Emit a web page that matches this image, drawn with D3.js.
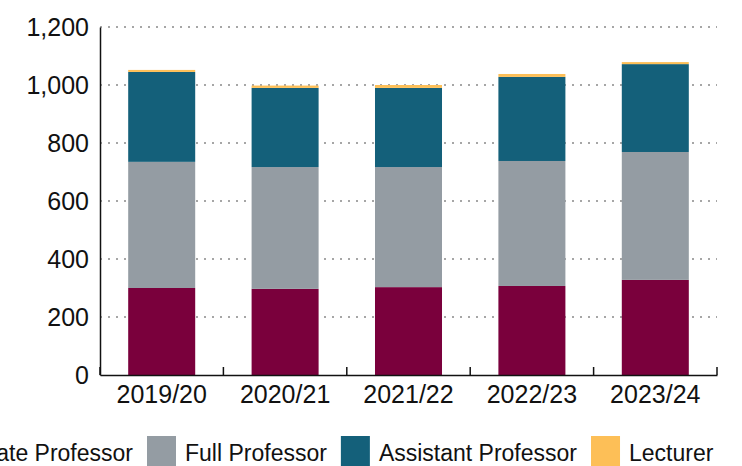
<!DOCTYPE html>
<html>
<head>
<meta charset="utf-8">
<script src="https://cdn.jsdelivr.net/npm/d3@7"></script>
<style>
  body { margin: 0; background: #fff; }
  svg text { font-family: "Liberation Sans", Arial, sans-serif; fill: #111; }
</style>
</head>
<body>
<svg id="chart" width="742" height="466"></svg>
<script>
// chart data
var years = ['2019/20', '2020/21', '2021/22', '2022/23', '2023/24'];
var ranks = ['Associate Professor', 'Full Professor', 'Assistant Professor', 'Lecturer'];
var associate = [300, 297, 303, 307, 328];
var full = [435, 420, 414, 431, 441];
var assistant = [310, 273, 273, 290, 303];
var lecturer = [7, 8, 10, 10, 7];
var yTicks = [0, 200, 400, 600, 800, 1000, 1200];
var colors = ['#7a003c', '#949ca3', '#14607a', '#fdbf57'];

var svg = d3.select('#chart');
var margin = {top: 27, left: 100, right: 25, bottom: 91};
var W = 742, H = 466;

var rows = years.map(function(y, i) {
  return {year: y, 'Associate Professor': associate[i], 'Full Professor': full[i],
          'Assistant Professor': assistant[i], 'Lecturer': lecturer[i]};
});
var stack = d3.stack().keys(ranks)(rows);

var x = d3.scaleBand().domain(years)
  .range([margin.left, W - margin.right])
  .paddingInner(0.457).paddingOuter(0.2285);
var y = d3.scaleLinear().domain([0, 1200]).range([H - margin.bottom, margin.top]);

// gridlines
svg.append('g').selectAll('line')
  .data(yTicks.filter(function(d) { return d > 0; }))
  .join('line')
  .attr('x1', margin.left).attr('x2', W - margin.right)
  .attr('y1', function(d) { return y(d); }).attr('y2', function(d) { return y(d); })
  .attr('stroke', '#a6a6a6').attr('stroke-width', 2)
  .attr('stroke-dasharray', '2,6');

// bars
svg.append('g').selectAll('g')
  .data(stack)
  .join('g')
  .attr('fill', function(d, i) { return colors[i]; })
  .selectAll('rect')
  .data(function(d) { return d; })
  .join('rect')
  .attr('x', function(d) { return x(d.data.year); })
  .attr('width', x.bandwidth())
  .attr('y', function(d) { return y(d[1]); })
  .attr('height', function(d) { return y(d[0]) - y(d[1]); });

// y axis
var yAxis = svg.append('g')
  .attr('transform', 'translate(' + margin.left + ',0)')
  .call(d3.axisLeft(y).tickValues(yTicks).tickSize(0).tickPadding(11).tickFormat(d3.format(',')));
yAxis.select('.domain').attr('stroke', '#111').attr('stroke-width', 1.5);
yAxis.selectAll('text').attr('font-size', 25);

// x axis with ticks at band boundaries
var xAxis = svg.append('g')
  .attr('transform', 'translate(0,' + (H - margin.bottom) + ')')
  .call(d3.axisBottom(x).tickSize(0).tickPadding(10));
xAxis.select('.domain').attr('stroke', '#111').attr('stroke-width', 1.5);
xAxis.selectAll('text').attr('font-size', 25).attr('dy', '0.72em');
var step = x.step();
var bounds = d3.range(years.length + 1).map(function(i) {
  return margin.left + i * (W - margin.left - margin.right) / years.length;
});
xAxis.selectAll('.bound').data(bounds).join('line')
  .attr('class', 'bound')
  .attr('x1', function(d) { return d; }).attr('x2', function(d) { return d; })
  .attr('y1', 0).attr('y2', -8)
  .attr('stroke', '#111').attr('stroke-width', 1.5);

// legend
var legend = svg.append('g');
var items = legend.selectAll('g').data(ranks).join('g');
items.append('rect').attr('width', 29).attr('height', 31).attr('y', 436)
  .attr('fill', function(d, i) { return colors[i]; });
items.append('text').attr('x', 38).attr('y', 461).attr('font-size', 23)
  .text(function(d) { return d; });
var widths = [];
items.each(function() {
  widths.push(38 + d3.select(this).select('text').node().getComputedTextLength() + 14);
});
// place "Full Professor" swatch at x=147, others follow
var xpos = [147 - widths[0]];
for (var i = 1; i < widths.length; i++) xpos.push(xpos[i - 1] + widths[i - 1]);
items.attr('transform', function(d, i) { return 'translate(' + xpos[i] + ',0)'; });
</script>
</body>
</html>
